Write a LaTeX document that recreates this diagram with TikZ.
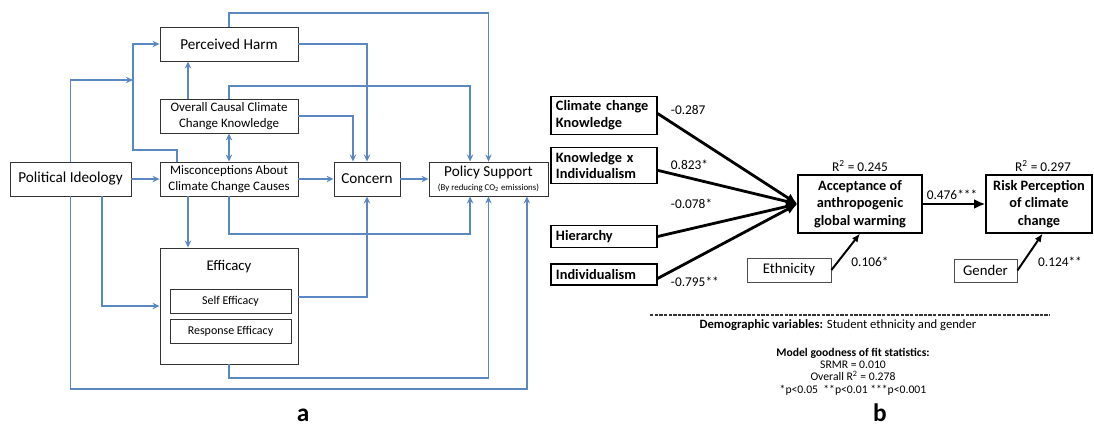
\documentclass[tikz,border=0pt]{standalone}
\usepackage{fontspec}
\setmainfont{Carlito}
\usetikzlibrary{arrows.meta, positioning}
\definecolor{flowblue}{RGB}{91,135,195}

\begin{document}
\begin{tikzpicture}[x=0.025cm, y=-0.025cm,
    box/.style={draw=black!80, line width=0.6pt, fill=white, inner sep=1pt, align=center, minimum height=0.85cm, font=\fontsize{9.2}{11}\selectfont},
    big box/.style={box, font=\fontsize{10.8}{12}\selectfont},
    sub box/.style={box, minimum width=3.025cm, minimum height=0.6cm, font=\fontsize{8.5}{10}\selectfont},
    flow/.style={draw=flowblue, line width=1.4pt, -{Stealth[length=5pt, width=4.5pt]}},
    var box/.style={draw, line width=0.8pt, align=left, inner xsep=0.125cm, text width=2.4cm, font=\bfseries\fontsize{10.2}{12}\selectfont},
    out box/.style={draw, line width=0.8pt, align=center, inner sep=1pt, font=\bfseries\fontsize{10.2}{12.4}\selectfont},
    demo box/.style={draw=black!70, line width=0.6pt, font=\fontsize{10.5}{12}\selectfont},
    effect/.style={line width=2pt, -{Latex[length=8pt, width=7pt]}},
    small effect/.style={line width=1.4pt, -{Latex[length=6pt, width=5pt]}},
    coef/.style={font=\fontsize{9.5}{11}\selectfont},
    panel/.style={anchor=base, inner sep=0pt, font=\bfseries\fontsize{18}{20}\selectfont}]
    \useasboundingbox (0,0) rectangle (1094,430);

    \node[big box, minimum width=3.45cm] (harm) at (229,44) {Perceived Harm};
    \node[box, minimum width=3.45cm] (know) at (229,116) {Overall Causal Climate\\Change Knowledge};
    \node[box, minimum width=3.45cm] (misc) at (229,179) {Misconceptions About\\Climate Change Causes};
    \node[big box, minimum width=3.025cm] (ideo) at (70.5,179) {Political Ideology};
    \node[big box, minimum width=1.65cm] (concern) at (367,179) {Concern};
    \node[big box, minimum width=2.975cm] (policy) at (488.5,179) {Policy Support\\[-2pt]{\fontsize{6.3}{7}\selectfont (By reducing CO\textsubscript{2} emissions)}};
    \node[box, minimum width=3.45cm, minimum height=2.9cm] (efficacy) at (229,306) {};
    \node[font=\fontsize{10.5}{12}\selectfont] (efftitle) at (229,267) {Efficacy};
    \node[sub box] (self) at (230.5,301) {Self Efficacy};
    \node[sub box] (response) at (230.5,331) {Response Efficacy};
    \coordinate (harm in) at (133,80);

    \draw[flow] (ideo) -- (misc);
    \draw[flow] (misc) -- (concern);
    \draw[flow] (concern) -- (policy);
    \draw[flow] (ideo.north) |- (harm in);
    \draw[flow] ([xshift=-1.3cm]misc.north) |- (133,150) |- (harm.west);
    \draw[flow] ([xshift=-1.025cm]know.north) -- ([xshift=-1.025cm]harm.south);
    \draw[flow, {Stealth[length=5pt, width=4.5pt]}-{Stealth[length=5pt, width=4.5pt]}] (know) -- (misc);
    \draw[flow] (know.north) -- ++(0,-13) -| ([xshift=-0.46cm]policy.north);
    \draw[flow] (know.east) -| ([xshift=-0.35cm]concern.north);
    \draw[flow] (harm.east) -| (concern.north);
    \draw[flow] (harm.north) -- ++(0,-14) -| (policy.north);
    \draw[flow] ([xshift=-1.025cm]misc.south) -- ([xshift=-1.025cm]efficacy.north);
    \draw[flow] (misc.south) -- ++(0,38) -| ([xshift=-0.46cm]policy.south);
    \draw[flow] (ideo.south) -- ++(0,193) -| ([xshift=0.96cm]policy.south);
    \draw[flow] ([xshift=0.79cm]ideo.south) |- (efficacy.west);
    \draw[flow] (efficacy.south) -- ++(0,14) -| (policy.south);
    \draw[flow] ([yshift=0.225cm]efficacy.east) -| (concern.south);

    \node[panel] (label a) at (303,421) {a};

    \node[var box, minimum height=0.875cm] (cck) at (604,115.5) {Climate change\\Knowledge};
    \node[var box, minimum height=0.825cm] (kxi) at (604,165.5) {Knowledge x\\Individualism};
    \node[var box, minimum height=0.525cm] (hier) at (604,236.5) {Hierarchy};
    \node[var box, minimum height=0.525cm] (indiv) at (604,274.5) {Individualism};
    \node[out box, minimum width=3.1cm, minimum height=1.45cm] (accept) at (860,204) {Acceptance of\\anthropogenic\\global warming};
    \node[out box, minimum width=2.65cm, minimum height=1.45cm] (risk) at (1039,204) {Risk Perception\\of climate\\change};
    \node[demo box, minimum width=2.1cm, minimum height=0.6cm] (ethn) at (789,270) {Ethnicity};
    \node[demo box, minimum width=1.575cm, minimum height=0.575cm] (gender) at (985.5,270.5) {Gender};
    \node[coef] (r accept) at (860,166) {R\textsuperscript{2} = 0.245};
    \node[coef] (r risk) at (1043,166) {R\textsuperscript{2} = 0.297};

    \draw[effect] ([yshift=0.05cm]cck.east) -- (accept.west);
    \draw[effect] ([yshift=-0.12cm]kxi.east) -- (accept.west);
    \draw[effect] (hier.east) -- (accept.west);
    \draw[effect] ([yshift=-0.1cm]indiv.east) -- (accept.west);
    \draw[effect] (accept) -- (risk);
    \draw[small effect] (ethn.east) -- (accept.south);
    \draw[small effect] (gender.east) -- ([xshift=0.09cm]risk.south);

    \node[coef, anchor=west] (c cck) at (666,110) {-0.287};
    \node[coef, anchor=west] (c kxi) at (666,165) {0.823*};
    \node[coef, anchor=west] (c hier) at (666,204) {-0.078*};
    \node[coef, anchor=west] (c indiv) at (666,282) {-0.795**};
    \node[coef] (c accept) at (952,195) {0.476***};
    \node[coef] (c ethn) at (870,262) {0.106*};
    \node[coef] (c gender) at (1060,262) {0.124**};

    \draw[black!80, line width=1.1pt, dash pattern=on 2.4pt off 0.9pt] (650,315) -- (1050,315);
    \node[font=\fontsize{9}{11}\selectfont] (demo) at (838,325) {\textbf{Demographic variables:} Student ethnicity and gender};
    \node[font=\fontsize{8.3}{8.8}\selectfont, align=center] (stats) at (853,371.5) {\textbf{Model goodness of fit statistics:}\\SRMR = 0.010\\Overall R\textsuperscript{2} = 0.278\\*p<0.05~~**p<0.01 ***p<0.001};

    \node[panel] (label b) at (880,421) {b};
\end{tikzpicture}
\end{document}
